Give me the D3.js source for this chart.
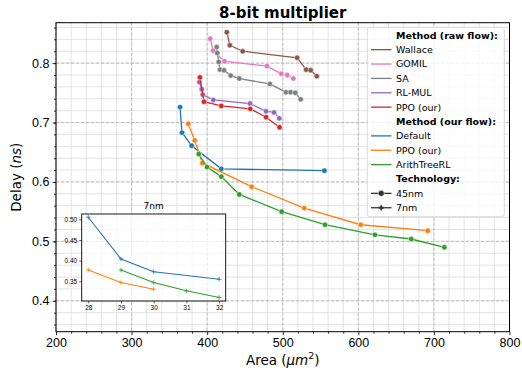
<!DOCTYPE html>
<html lang="en">
<head>
<meta charset="UTF-8">
<title>8-bit multiplier</title>
<script src="https://cdn.jsdelivr.net/npm/d3@7"></script>
<style>
  body{margin:0;background:#fff}
  svg{font-family:"DejaVu Sans",sans-serif}
</style>
</head>
<body>
<svg id="chart" width="522" height="372"></svg>
<script>
// ---- data ----
const wallaceArea = [426, 430, 447, 519, 531, 537, 545]
const wallaceDelay = [0.852, 0.830, 0.820, 0.809, 0.789, 0.788, 0.778]
const gomilArea = [404, 408, 423, 479, 498, 506, 514]
const gomilDelay = [0.841, 0.821, 0.803, 0.795, 0.782, 0.780, 0.774]
const saArea = [412.6, 413.4, 415.3, 417, 422.3, 431.1, 442.5, 483, 504.3, 510.5, 516.6, 523.8]
const saDelay = [0.827, 0.817, 0.802, 0.789, 0.788, 0.779, 0.774, 0.765, 0.751, 0.751, 0.750, 0.739]
const rlmulArea = [389.6, 392.8, 394.1, 408.1, 456.7, 477.9, 488.4, 495.4]
const rlmulDelay = [0.768, 0.756, 0.747, 0.738, 0.732, 0.719, 0.717, 0.707]
const ppoRawArea = [390.5, 395.8, 418.7, 457, 477.9, 495.7]
const ppoRawDelay = [0.776, 0.735, 0.728, 0.723, 0.709, 0.692]
const defaultArea = [364.1, 366.7, 379.5, 418.7, 555]
const defaultDelay = [0.726, 0.683, 0.661, 0.622, 0.619]
const ppoArea = [375, 383.5, 393.6, 458.9, 528.5, 603.2, 691.8]
const ppoDelay = [0.698, 0.670, 0.632, 0.592, 0.556, 0.528, 0.518]
const arithArea = [388.8, 399.8, 418.7, 442.5, 498.6, 555.9, 622, 670, 713.8]
const arithDelay = [0.647, 0.625, 0.609, 0.579, 0.550, 0.528, 0.511, 0.504, 0.490]

// 7nm inset (x = node index as plotted)
const default7X = [28, 29, 30, 32]
const default7Delay = [0.505, 0.404, 0.373, 0.355]
const ppo7X = [28, 29, 30]
const ppo7Delay = [0.3775, 0.347, 0.331]
const arith7X = [29, 30, 31, 32]
const arith7Delay = [0.3775, 0.347, 0.327, 0.311]

const xTicks = [200, 300, 400, 500, 600, 700, 800]
const yTicks = [0.4, 0.5, 0.6, 0.7, 0.8]
const insetXTicks = [28, 29, 30, 31, 32]
const insetYTicks = [0.35, 0.40, 0.45, 0.50]

const rawNames = ["Wallace", "GOMIL", "SA", "RL-MUL", "PPO (our)"]
const rawColors = ["#8c564b", "#e377c2", "#7f7f7f", "#9467bd", "#d62728"]
const ourNames = ["Default", "PPO (our)", "ArithTreeRL"]
const ourColors = ["#1f77b4", "#ff7f0e", "#2ca02c"]

const zip = (a, b) => a.map((v, i) => [v, b[i]])
const series45 = [
  {c: rawColors[0], pts: zip(wallaceArea, wallaceDelay)},
  {c: rawColors[1], pts: zip(gomilArea, gomilDelay)},
  {c: rawColors[2], pts: zip(saArea, saDelay)},
  {c: rawColors[3], pts: zip(rlmulArea, rlmulDelay)},
  {c: rawColors[4], pts: zip(ppoRawArea, ppoRawDelay)},
  {c: ourColors[0], pts: zip(defaultArea, defaultDelay)},
  {c: ourColors[1], pts: zip(ppoArea, ppoDelay)},
  {c: ourColors[2], pts: zip(arithArea, arithDelay)}
]
const series7 = [
  {c: ourColors[0], pts: zip(default7X, default7Delay)},
  {c: ourColors[1], pts: zip(ppo7X, ppo7Delay)},
  {c: ourColors[2], pts: zip(arith7X, arith7Delay)}
]

const svg = d3.select("#chart")
const L = 56, R = 509.5, T = 22.7, B = 331.7

let x = d3.scaleLinear().domain([200, 800]).range([L, R])
let y = d3.scaleLinear().domain([0.348, 0.868]).range([B, T])

const xMinor = d3.range(200, 801, 20)
const yMinor = d3.range(0.36, 0.868, 0.02)

// grid
let grid = svg.append("g")
grid.selectAll(".vmin").data(xMinor).enter().append("line")
  .attr("x1", d => x(d)).attr("x2", d => x(d)).attr("y1", T).attr("y2", B)
  .attr("stroke", "#dcdcdc").attr("stroke-width", 0.8)
grid.selectAll(".hmin").data(yMinor).enter().append("line")
  .attr("y1", d => y(d)).attr("y2", d => y(d)).attr("x1", L).attr("x2", R)
  .attr("stroke", "#dcdcdc").attr("stroke-width", 0.8)
grid.selectAll(".vmaj").data(xTicks).enter().append("line")
  .attr("x1", d => x(d)).attr("x2", d => x(d)).attr("y1", T).attr("y2", B)
  .attr("stroke", "#b0b0b0").attr("stroke-width", 0.8).attr("stroke-dasharray", "3,2")
grid.selectAll(".hmaj").data(yTicks).enter().append("line")
  .attr("y1", d => y(d)).attr("y2", d => y(d)).attr("x1", L).attr("x2", R)
  .attr("stroke", "#b0b0b0").attr("stroke-width", 0.8).attr("stroke-dasharray", "3,2")

// lines + markers
let line = d3.line().x(d => x(d[0])).y(d => y(d[1]))
let plot = svg.append("g")
series45.forEach(s => {
  plot.append("path").attr("d", line(s.pts)).attr("fill", "none")
    .attr("stroke", s.c).attr("stroke-width", 1.3)
  plot.selectAll(null).data(s.pts).enter().append("circle")
    .attr("cx", d => x(d[0])).attr("cy", d => y(d[1])).attr("r", 2.7)
    .attr("fill", s.c).attr("stroke", "#fff").attr("stroke-width", 0.5)
})

// axes
let xaxis = d3.axisBottom(x).tickValues(xTicks).tickSize(3.5).tickPadding(3)
let gx = svg.append("g").attr("transform", `translate(0,${B})`).call(xaxis)
let yaxis = d3.axisLeft(y).tickValues(yTicks).tickSize(3.5).tickPadding(3).tickFormat(d3.format(".1f"))
let gy = svg.append("g").attr("transform", `translate(${L},0)`).call(yaxis)
svg.append("g").attr("transform", `translate(0,${B})`)
  .call(d3.axisBottom(x).tickValues(xMinor.filter(d => d % 100)).tickSize(2).tickFormat(""))
svg.append("g").attr("transform", `translate(${L},0)`)
  .call(d3.axisLeft(y).tickValues(yMinor).tickSize(2).tickFormat(""))
svg.selectAll(".domain").remove()
svg.selectAll(".tick line").attr("stroke", "#000").attr("stroke-width", 0.8)
gx.selectAll("text").attr("font-size", 12.5).attr("fill", "#000")
gy.selectAll("text").attr("font-size", 12.5).attr("fill", "#000")

svg.append("rect").attr("x", L).attr("y", T).attr("width", R - L).attr("height", B - T)
  .attr("fill", "none").attr("stroke", "#000").attr("stroke-width", 1)

// labels
svg.append("text").attr("x", (L + R) / 2).attr("y", 18).attr("text-anchor", "middle")
  .attr("font-size", 15).attr("font-weight", "bold").text("8-bit multiplier")
let xl = svg.append("text").attr("x", (L + R) / 2).attr("y", 364.5).attr("text-anchor", "middle")
  .attr("font-size", 13.5)
xl.append("tspan").text("Area (")
xl.append("tspan").attr("font-style", "italic").text("μm")
xl.append("tspan").attr("font-size", 9.5).attr("dy", -5.5).text("2")
xl.append("tspan").attr("dy", 5.5).text(")")
let yl = svg.append("text").attr("transform", `translate(21,${(T + B) / 2}) rotate(-90)`)
  .attr("text-anchor", "middle").attr("font-size", 13.5)
yl.append("tspan").text("Delay (")
yl.append("tspan").attr("font-style", "italic").text("ns")
yl.append("tspan").text(")")

// legend
let lg = svg.append("g")
lg.append("rect").attr("x", 367.3).attr("y", 27.3).attr("width", 137).attr("height", 189.4)
  .attr("rx", 2.5).attr("fill", "#fff").attr("fill-opacity", 0.8)
  .attr("stroke", "#d0d0d0").attr("stroke-width", 0.8)
let rows = [{h: "Method (raw flow):"}]
rawNames.forEach((n, i) => rows.push({n: n, c: rawColors[i]}))
rows.push({h: "Method (our flow):"})
ourNames.forEach((n, i) => rows.push({n: n, c: ourColors[i]}))
rows.push({h: "Technology:"})
rows.push({n: "45nm", c: "#333", m: "o"})
rows.push({n: "7nm", c: "#333", m: "+"})
rows.forEach((r, i) => {
  let cy = 35.3 + i * 14.37
  if (r.h) {
    lg.append("text").attr("x", 396).attr("y", cy + 3.4).attr("font-size", 9.5)
      .attr("font-weight", "bold").text(r.h)
    return
  }
  lg.append("line").attr("x1", 371).attr("x2", 391.5).attr("y1", cy).attr("y2", cy)
    .attr("stroke", r.c).attr("stroke-width", 1.3)
  if (r.m == "o") lg.append("circle").attr("cx", 381.2).attr("cy", cy).attr("r", 3)
    .attr("fill", r.c).attr("stroke", "#fff").attr("stroke-width", 0.5)
  if (r.m == "+") lg.append("path").attr("d", `M378.7,${cy}H383.7M381.2,${cy - 2.5}V${cy + 2.5}`)
    .attr("stroke", r.c).attr("stroke-width", 1.8)
  lg.append("text").attr("x", 396).attr("y", cy + 3.4).attr("font-size", 9.5).text(r.n)
})

// inset 7nm
const iL = 81.7, iR = 225.7, iT = 214, iB = 301
let ix = d3.scaleLinear().domain([27.8, 32.2]).range([iL, iR])
let iy = d3.scaleLinear().domain([0.3024, 0.5128]).range([iB, iT])
let inset = svg.append("g")
inset.append("rect").attr("x", iL).attr("y", iT).attr("width", iR - iL).attr("height", iB - iT)
  .attr("fill", "#fff").attr("fill-opacity", 0.75)
let iline = d3.line().x(d => ix(d[0])).y(d => iy(d[1]))
series7.forEach(s => {
  inset.append("path").attr("d", iline(s.pts)).attr("fill", "none")
    .attr("stroke", s.c).attr("stroke-width", 1.1)
  inset.selectAll(null).data(s.pts).enter().append("path")
    .attr("d", d => `M${ix(d[0]) - 2.3},${iy(d[1])}H${ix(d[0]) + 2.3}M${ix(d[0])},${iy(d[1]) - 2.3}V${iy(d[1]) + 2.3}`)
    .attr("stroke", s.c).attr("stroke-width", 0.8)
})
let igx = inset.append("g").attr("transform", `translate(0,${iB})`)
  .call(d3.axisBottom(ix).tickValues(insetXTicks).tickSize(2.5).tickPadding(2).tickFormat(d3.format("d")))
let igy = inset.append("g").attr("transform", `translate(${iL},0)`)
  .call(d3.axisLeft(iy).tickValues(insetYTicks).tickSize(2.5).tickPadding(2).tickFormat(d3.format(".2f")))
inset.selectAll(".domain").remove()
inset.selectAll(".tick line").attr("stroke", "#000").attr("stroke-width", 0.6)
inset.selectAll(".tick text").attr("font-size", 6.5).attr("fill", "#000")
inset.append("rect").attr("x", iL).attr("y", iT).attr("width", iR - iL).attr("height", iB - iT)
  .attr("fill", "none").attr("stroke", "#000").attr("stroke-width", 0.9)
inset.append("text").attr("x", (iL + iR) / 2).attr("y", 208.5).attr("text-anchor", "middle")
  .attr("font-size", 9).text("7nm")
</script>
</body>
</html>
